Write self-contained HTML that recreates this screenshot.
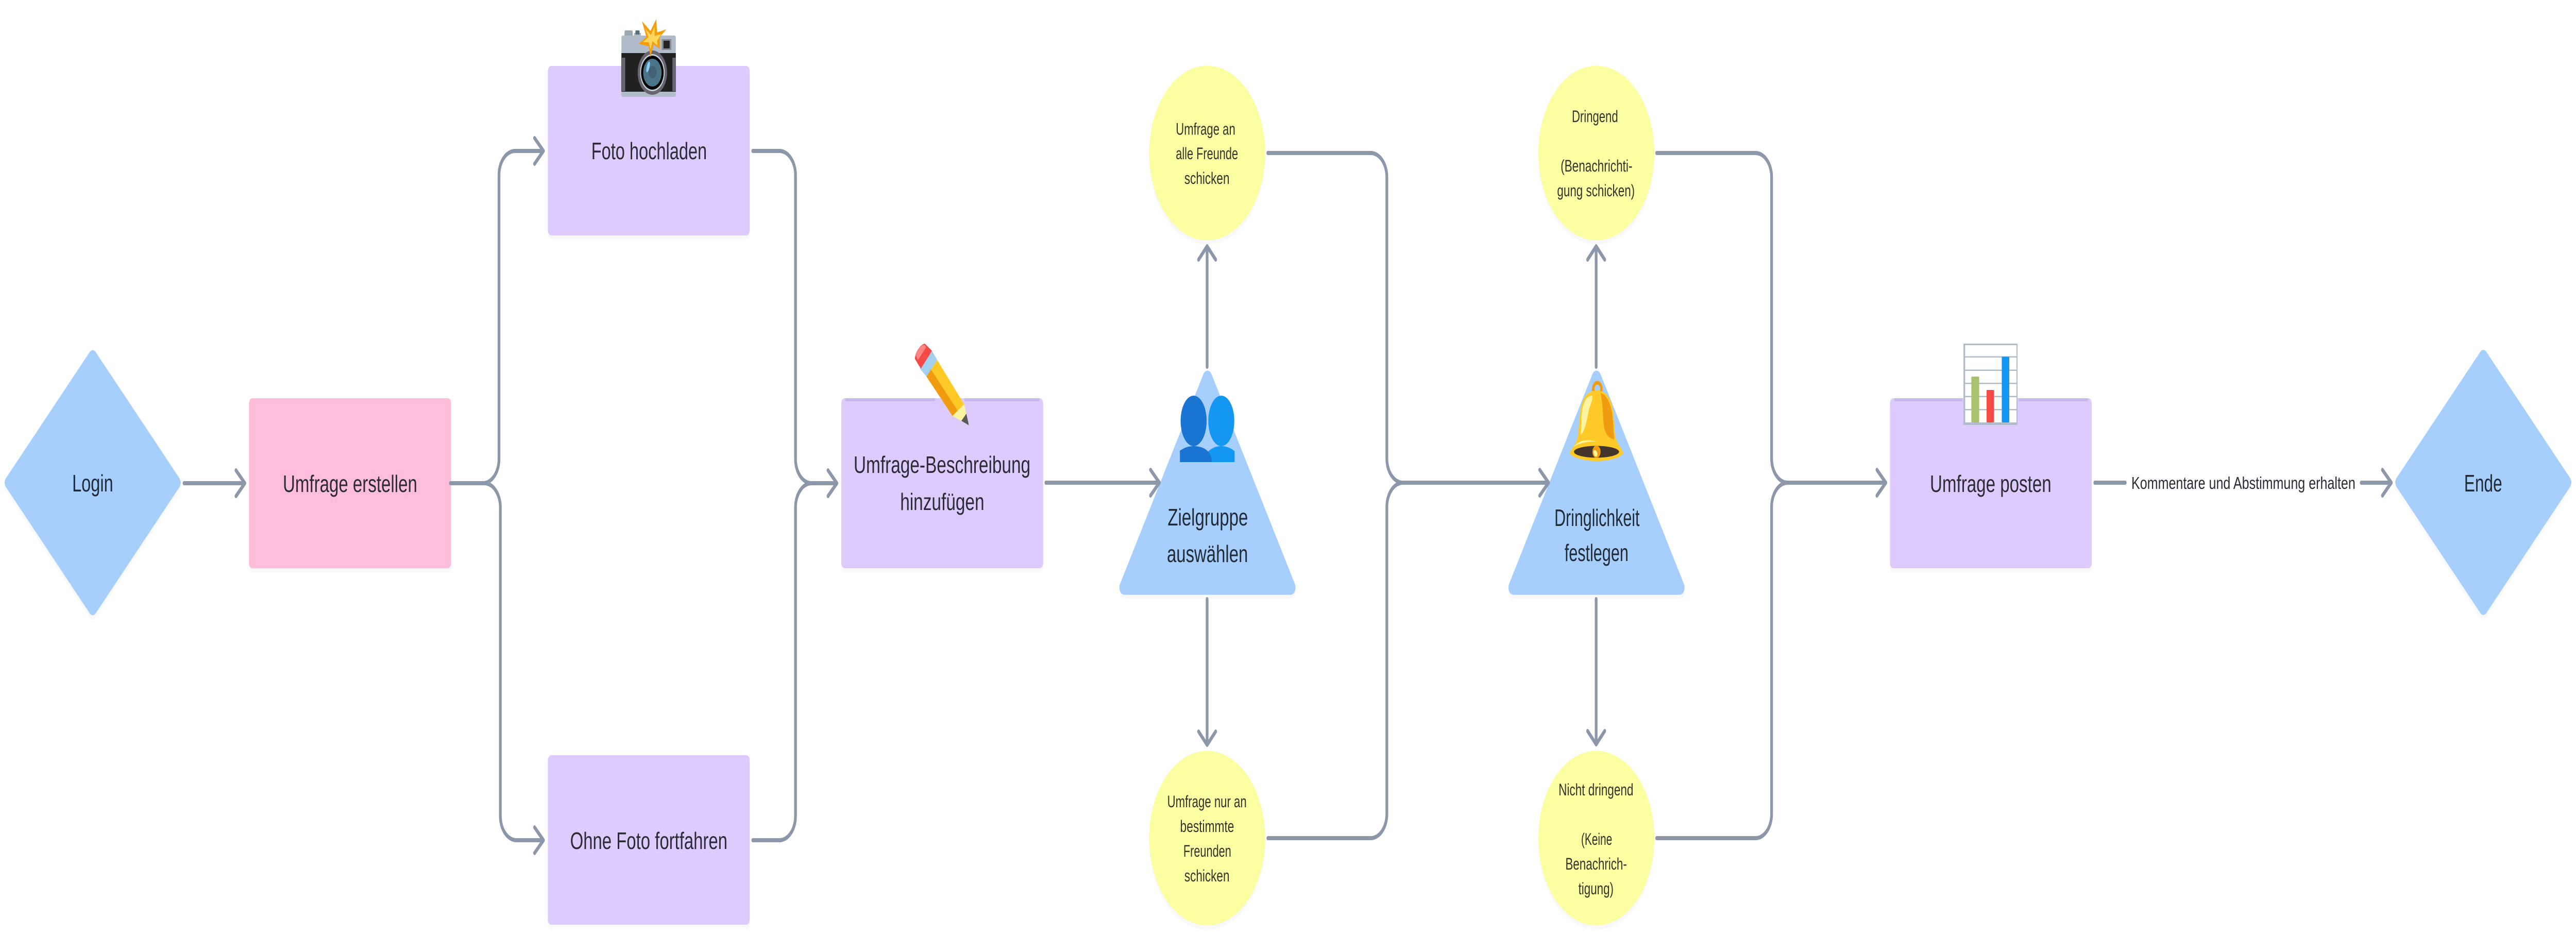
<!DOCTYPE html>
<html lang="de">
<head>
<meta charset="utf-8">
<title>Umfrage Flussdiagramm</title>
<style>
html,body{margin:0;padding:0;background:#fff;width:100%;height:100%;overflow:hidden}
svg{display:block;width:100vw;height:100vh}
text{font-family:"Liberation Sans",sans-serif;fill:#2b2b35}
.l{font-size:46px}
.s{font-size:32px;fill:#33352a}
.m{font-size:33px}
.b{fill:#212a35}
.conn{fill:none;stroke:#8c97aa;stroke-width:8;stroke-linecap:round;stroke-linejoin:round}
.sh{fill:#000;opacity:.025}
.shl{fill:none;stroke:#1e283c;opacity:.03;stroke-width:10;stroke-linecap:round;stroke-linejoin:round}
</style>
</head>
<body>
<svg xmlns="http://www.w3.org/2000/svg" viewBox="0 0 7532 1815" preserveAspectRatio="none">
<rect width="7532" height="1815" fill="#fff"/>

<!-- soft shadows -->
<g class="sh" transform="translate(0 8)">
  <rect x="85.5" y="751.5" width="371" height="371" rx="12" transform="rotate(45 271 937)"/>
  <rect x="7075.5" y="751" width="371" height="371" rx="12" transform="rotate(45 7261 936.5)"/>
  <rect x="728" y="773" width="591" height="330" rx="10"/>
  <rect x="1602" y="128" width="590" height="329" rx="10"/>
  <rect x="1602" y="1466" width="590" height="329" rx="10"/>
  <rect x="2460" y="773" width="590" height="330" rx="10"/>
  <rect x="5526" y="773" width="590" height="330" rx="10"/>
  <circle cx="3529.5" cy="297" r="169.5"/>
  <circle cx="3529.5" cy="1627" r="169.5"/>
  <circle cx="4667.5" cy="297" r="169.5"/>
  <circle cx="4667.5" cy="1627" r="169.5"/>
  <polygon points="3530.5,733.5 3774,1140.6 3287,1140.6" stroke="#000" stroke-width="28" stroke-linejoin="round"/>
  <polygon points="4668,733.5 4911.5,1140.6 4424.5,1140.6" stroke="#000" stroke-width="28" stroke-linejoin="round"/>
</g>

<g>
  <rect x="85.5" y="751.5" width="371" height="371" rx="12" fill="#a7cffd" transform="rotate(45 271 937)"/>
  <rect x="7075.5" y="751" width="371" height="371" rx="12" fill="#a7cffd" transform="rotate(45 7261 936.5)"/>
  <rect x="728" y="773" width="591" height="330" rx="10" fill="#febedb"/>
  <rect x="1602" y="128" width="590" height="329" rx="10" fill="#decbfe"/>
  <rect x="1602" y="1466" width="590" height="329" rx="10" fill="#decbfe"/>
  <rect x="2460" y="773" width="590" height="330" rx="10" fill="#decbfe"/>
  <rect x="5526" y="773" width="590" height="330" rx="10" fill="#decbfe"/>
  <polygon points="3530.5,733.5 3774,1140.6 3287,1140.6" fill="#a7cffd" stroke="#a7cffd" stroke-width="28" stroke-linejoin="round"/>
  <polygon points="4668,733.5 4911.5,1140.6 4424.5,1140.6" fill="#a7cffd" stroke="#a7cffd" stroke-width="28" stroke-linejoin="round"/>
  <circle cx="3529.5" cy="297" r="169.5" fill="#fbfea1"/>
  <circle cx="3529.5" cy="1627" r="169.5" fill="#fbfea1"/>
  <circle cx="4667.5" cy="297" r="169.5" fill="#fbfea1"/>
  <circle cx="4667.5" cy="1627" r="169.5" fill="#fbfea1"/>
</g>

<!-- strips on top of rects -->
<rect x="2472" y="773" width="262" height="6" fill="#c8b9ea"/>
<rect x="2820" y="773" width="219" height="6" fill="#c8b9ea"/>
<rect x="5539" y="773" width="199" height="6" fill="#c8b9ea"/>
<rect x="5902" y="773" width="203" height="6" fill="#c8b9ea"/>

<g class="conn">
  <path d="M538 938H716M690 913L716 938L690 963"/>
  <path d="M1317 938H1412A47 47 0 0 0 1459 891V340A47 47 0 0 1 1506 293H1589M1563 268L1589 293L1563 318"/>
  <path d="M1317 938H1416A47 47 0 0 1 1463 985V1584A47 47 0 0 0 1510 1631H1589M1563 1606L1589 1631L1563 1656"/>
  <path d="M2201 293H2279A47 47 0 0 1 2326 340V891A47 47 0 0 0 2373 938H2447M2421 913L2447 938L2421 963"/>
  <path d="M2201 1631H2279A47 47 0 0 0 2326 1584V985A47 47 0 0 1 2373 938"/>
  <path d="M3058 937H3390M3364 912L3390 937L3364 962"/>
  <path d="M3529.5 712V478M3504.5 504L3529.5 478L3554.5 504"/>
  <path d="M3529.5 1163V1446M3504.5 1420L3529.5 1446L3554.5 1420"/>
  <path d="M3707 297H4008A47 47 0 0 1 4055 344V890A47 47 0 0 0 4102 937H4528M4502 912L4528 937L4502 962"/>
  <path d="M3707 1627H4008A47 47 0 0 0 4055 1580V984A47 47 0 0 1 4102 937"/>
  <path d="M4667 712V478M4642 504L4667 478L4692 504"/>
  <path d="M4667 1163V1445M4642 1419L4667 1445L4692 1419"/>
  <path d="M4844 297H5133A47 47 0 0 1 5180 344V890A47 47 0 0 0 5227 937H5514M5488 912L5514 937L5488 962"/>
  <path d="M4844 1627H5133A47 47 0 0 0 5180 1580V984A47 47 0 0 1 5227 937"/>
  <path d="M6125 937H6214"/>
  <path d="M6904 937H6992M6966 912L6992 937L6966 962"/>
</g>

<!-- Camera -->
<g>
  <rect x="1826" y="59" width="24" height="12" rx="3" fill="#9aa8b5"/>
  <rect x="1854" y="64" width="20" height="7" fill="#aab6c2"/>
  <rect x="1858" y="59" width="12" height="8" rx="2" fill="#546e7a"/>
  <rect x="1817" y="69" width="159" height="119" rx="4" fill="#b0bcca"/>
  <rect x="1817" y="103" width="159" height="75" fill="#212121"/>
  <rect x="1818" y="112" width="10" height="65" fill="#6a6470"/>
  <rect x="1966" y="112" width="10" height="65" fill="#6a6470"/>
  <rect x="1935" y="76" width="28" height="21" fill="#8a8a94"/>
  <rect x="1940" y="79" width="18" height="15" fill="#222"/>
  <circle cx="1907.5" cy="141" r="43" fill="#6a6470"/>
  <circle cx="1907.5" cy="141" r="36" fill="#bcd3da"/>
  <circle cx="1907.5" cy="141" r="33" fill="#000"/>
  <circle cx="1907.5" cy="141" r="27" fill="#4a7589"/>
  <circle cx="1908" cy="140" r="12" fill="#426274"/>
  <ellipse cx="1895" cy="130" rx="4" ry="11" fill="#90caf9" transform="rotate(20 1895 130)"/>
  <polygon points="1919,37 1921,63 1948,57 1929,72 1929,95 1911,86 1902,111 1897,90 1867,85 1890,72 1877,41 1902,60" fill="#f59e0b"/>
  <polygon points="1914,52 1914,70 1934,66 1922,78 1922,88 1908,80 1902,96 1897,82 1880,82 1896,72 1887,56 1903,68" fill="#fdd85a"/>
</g>

<!-- Pencil -->
<g>
  <polygon points="2709,731 2740,698.5 2819,784.6 2785,807.5" fill="#ffc928"/>
  <polygon points="2709,731 2722,717 2800,797 2785,807.5" fill="#f09c10"/>
  <polygon points="2819,784.6 2785,807.5 2833,825.5" fill="#fbf4a0"/>
  <polygon points="2825.5,803 2811,817 2833,825.5" fill="#5a5a5a"/>
  <polygon points="2725,681 2740,698.5 2709,731 2690,715.7" fill="#a3d0ee"/>
  <path d="M2675 696.5C2676 684 2692 668 2704 667L2725 681L2692.5 715.7Z" fill="#f34a48"/>
  <path d="M2678 690C2682 680 2692 670 2702 669L2708 674L2684 699Z" fill="#ff8585"/>
</g>

<!-- People -->
<g>
  <ellipse cx="3571" cy="817" rx="38" ry="49" fill="#1397f1"/>
  <path d="M3528 897V880C3540 870 3555 866 3571 866C3586 866 3600 870 3610 876V897Z" fill="#1397f1"/>
  <ellipse cx="3490" cy="817" rx="38" ry="49" fill="#1a75d2"/>
  <path d="M3450 897V875C3462 869 3475 866 3490 866C3518 866 3543 875 3543 897Z" fill="#1a75d2"/>
</g>

<!-- Bell -->
<g>
  <circle cx="4670.5" cy="755" r="12" fill="none" stroke="#f09c10" stroke-width="7"/>
  <path d="M4669 758C4640 758 4622 775 4619 810L4614 843C4612 860 4595 870 4589 880C4600 890 4640 895 4668 895C4700 895 4735 890 4747 880C4740 868 4725 860 4722 843L4718 810C4715 775 4698 758 4669 758Z" fill="#ffca28"/>
  <path d="M4680 763C4700 766 4714 790 4716 815L4720 853C4700 850 4690 840 4688 815C4686 790 4684 775 4680 763Z" fill="#f09c10"/>
  <path d="M4655 768C4636 768 4626 785 4624 810L4622 844C4634 838 4640 815 4646 795C4652 782 4658 775 4655 768Z" fill="#fcf4a0"/>
  <path d="M4602 867C4615 855 4640 852 4667 857C4640 857 4620 860 4602 867Z" fill="#fcf4a0"/>
  <ellipse cx="4668" cy="877" rx="66" ry="11.5" fill="#43352a"/>
  <circle cx="4668" cy="877" r="12" fill="#f09c10"/>
  <ellipse cx="4665" cy="880" rx="5" ry="7" fill="#fcf4a0" transform="rotate(-35 4665 880)"/>
</g>

<!-- Chart -->
<g>
  <rect x="5741" y="667" width="158" height="158" fill="#b0bcca"/>
  <rect x="5746" y="670" width="150" height="150" fill="#fff"/>
  <g fill="#b0bcca">
    <rect x="5746" y="691.5" width="150" height="2.5"/>
    <rect x="5746" y="717.5" width="150" height="2.5"/>
    <rect x="5746" y="743" width="150" height="2.5"/>
    <rect x="5746" y="768.5" width="150" height="2.5"/>
    <rect x="5746" y="794" width="150" height="2.5"/>
  </g>
  <rect x="5764" y="731" width="23" height="89" rx="2" fill="#a8c26e"/>
  <rect x="5808.5" y="757" width="22" height="63" rx="2" fill="#f44c45"/>
  <rect x="5853" y="692.5" width="22" height="127.5" rx="2" fill="#1397f1"/>
</g>

<!-- Labels -->
<text class="l b" x="211" y="954" textLength="120" lengthAdjust="spacingAndGlyphs">Login</text>
<text class="l" x="827" y="955" textLength="393" lengthAdjust="spacingAndGlyphs">Umfrage erstellen</text>
<text class="l" x="1729" y="309" textLength="338" lengthAdjust="spacingAndGlyphs">Foto hochladen</text>
<text class="l" x="1667" y="1648" textLength="460" lengthAdjust="spacingAndGlyphs">Ohne Foto fortfahren</text>
<text class="l" x="2496" y="918" textLength="517" lengthAdjust="spacingAndGlyphs">Umfrage-Beschreibung</text>
<text class="l" x="2632" y="990" textLength="246" lengthAdjust="spacingAndGlyphs">hinzufügen</text>
<text class="l b" x="3414" y="1020" textLength="235" lengthAdjust="spacingAndGlyphs">Zielgruppe</text>
<text class="l b" x="3412" y="1091" textLength="237" lengthAdjust="spacingAndGlyphs">auswählen</text>
<text class="l b" x="4545" y="1021" textLength="249" lengthAdjust="spacingAndGlyphs">Dringlichkeit</text>
<text class="l b" x="4574.5" y="1089" textLength="187" lengthAdjust="spacingAndGlyphs">festlegen</text>
<text class="l" x="5643" y="955" textLength="355" lengthAdjust="spacingAndGlyphs">Umfrage posten</text>
<text class="l b" x="7205" y="954" textLength="111" lengthAdjust="spacingAndGlyphs">Ende</text>

<text class="s" x="3438" y="261.5" textLength="174" lengthAdjust="spacingAndGlyphs">Umfrage an</text>
<text class="s" x="3438" y="309" textLength="182" lengthAdjust="spacingAndGlyphs">alle Freunde</text>
<text class="s" x="3463" y="357" textLength="132" lengthAdjust="spacingAndGlyphs">schicken</text>

<text class="s" x="3413" y="1567" textLength="232" lengthAdjust="spacingAndGlyphs">Umfrage nur an</text>
<text class="s" x="3450.5" y="1615" textLength="158" lengthAdjust="spacingAndGlyphs">bestimmte</text>
<text class="s" x="3460" y="1663" textLength="140" lengthAdjust="spacingAndGlyphs">Freunden</text>
<text class="s" x="3463" y="1711" textLength="132" lengthAdjust="spacingAndGlyphs">schicken</text>

<text class="s" x="4596" y="237" textLength="135" lengthAdjust="spacingAndGlyphs">Dringend</text>
<text class="s" x="4563" y="333" textLength="210" lengthAdjust="spacingAndGlyphs">(Benachrichti-</text>
<text class="s" x="4553" y="381" textLength="227" lengthAdjust="spacingAndGlyphs">gung schicken)</text>

<text class="s" x="4557" y="1544" textLength="219" lengthAdjust="spacingAndGlyphs">Nicht dringend</text>
<text class="s" x="4623" y="1640" textLength="91" lengthAdjust="spacingAndGlyphs">(Keine</text>
<text class="s" x="4577" y="1688" textLength="180" lengthAdjust="spacingAndGlyphs">Benachrich-</text>
<text class="s" x="4615" y="1736" textLength="103" lengthAdjust="spacingAndGlyphs">tigung)</text>

<text class="m" x="6232" y="949" textLength="655" lengthAdjust="spacingAndGlyphs">Kommentare und Abstimmung erhalten</text>
</svg>
</body>
</html>
